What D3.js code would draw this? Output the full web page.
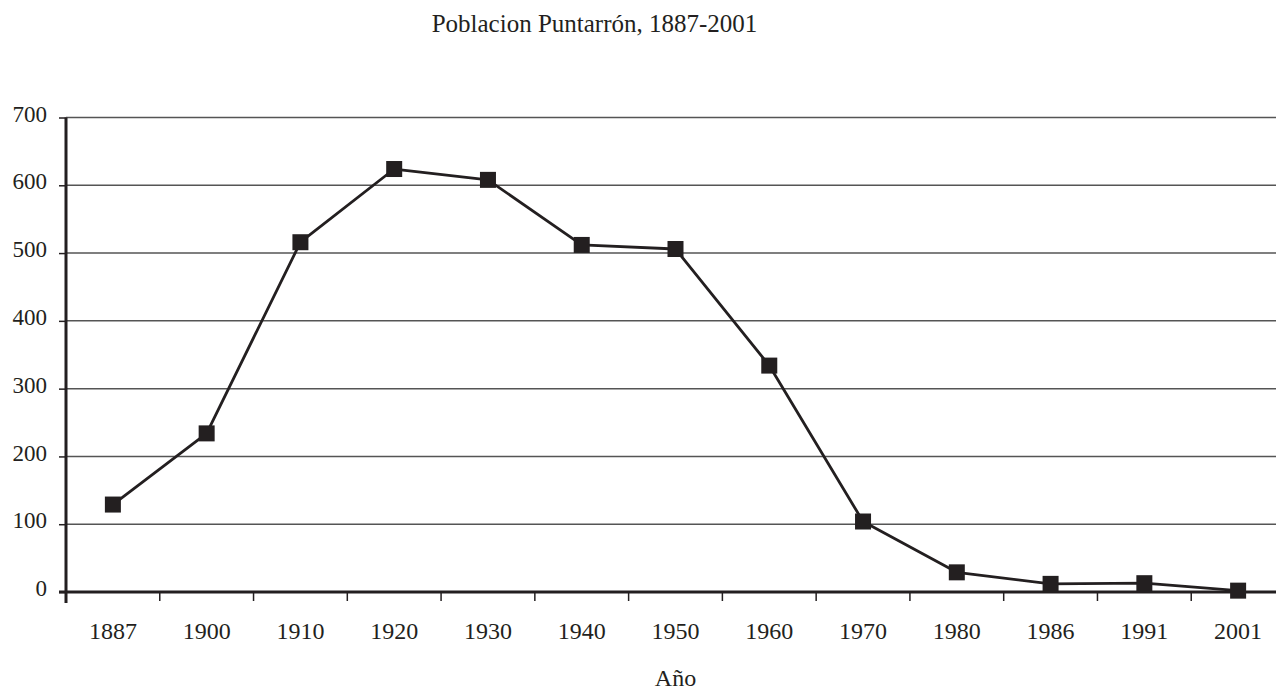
<!DOCTYPE html>
<html>
<head>
<meta charset="utf-8">
<script src="https://cdn.jsdelivr.net/npm/d3@7"></script>
<style>
  body { margin: 0; background: #fff; }
  text { font-family: "Liberation Serif", "Times New Roman", serif; fill: #231f20; }
</style>
</head>
<body>
<div id="graph"></div>
<script>
(function() {
    // chart data
    const years = ["1887", "1900", "1910", "1920", "1930", "1940", "1950", "1960", "1970", "1980", "1986", "1991", "2001"];
    const population = [129, 234, 516, 624, 608, 512, 506, 334, 104, 29, 12, 13, 2];
    const yTicks = [0, 100, 200, 300, 400, 500, 600, 700];

    const width = 1276, height = 691;
    const left = 66, right = 1285, top = 117.5, bottom = 592;

    const svg = d3.select("#graph")
        .append("svg")
        .attr("width", width)
        .attr("height", height);

    const x = d3.scaleBand()
        .domain(years)
        .range([left, right]);

    const y = d3.scaleLinear()
        .domain([0, 700])
        .range([bottom, top]);

    // title
    svg.append("text")
        .attr("x", 594.5)
        .attr("y", 32)
        .attr("text-anchor", "middle")
        .style("font-size", "25px")
        .text("Poblacion Puntarrón, 1887-2001");

    // horizontal gridlines
    svg.append("g")
        .selectAll("line")
        .data(yTicks.filter(d => d > 0))
        .enter()
        .append("line")
        .attr("x1", left)
        .attr("x2", width)
        .attr("y1", d => y(d))
        .attr("y2", d => y(d))
        .attr("stroke", "#555")
        .attr("stroke-width", 1.5);

    // y axis
    const yAxis = d3.axisLeft(y)
        .tickValues(yTicks)
        .tickSize(7)
        .tickPadding(12)
        .tickFormat(d3.format("d"));

    const gy = svg.append("g")
        .attr("transform", "translate(" + left + ",0)")
        .call(yAxis);
    gy.select(".domain").remove();
    gy.selectAll(".tick line").attr("stroke", "#231f20").attr("stroke-width", 1.5);
    gy.selectAll(".tick text")
        .attr("dy", "0.16em")
        .style("font-size", "23px")
        .style("font-family", "Liberation Serif, serif")
        .attr("fill", "#231f20");
    gy.append("line")
        .attr("x1", 0).attr("x2", 0)
        .attr("y1", top).attr("y2", bottom + 11)
        .attr("stroke", "#231f20")
        .attr("stroke-width", 3);

    // x axis
    const xAxis = d3.axisBottom(x)
        .tickSize(0)
        .tickPadding(30);

    const gx = svg.append("g")
        .attr("transform", "translate(0," + bottom + ")")
        .call(xAxis);
    gx.select(".domain").remove();
    gx.selectAll(".tick text")
        .style("font-size", "24px")
        .style("font-family", "Liberation Serif, serif")
        .attr("fill", "#231f20");

    // tick marks between categories
    gx.selectAll(".sep")
        .data(years.slice(1))
        .enter()
        .append("line")
        .attr("class", "sep")
        .attr("x1", d => x(d))
        .attr("x2", d => x(d))
        .attr("y1", 0)
        .attr("y2", 9)
        .attr("stroke", "#231f20")
        .attr("stroke-width", 1.5);

    gx.append("line")
        .attr("x1", left - 7)
        .attr("x2", width)
        .attr("y1", 0)
        .attr("y2", 0)
        .attr("stroke", "#231f20")
        .attr("stroke-width", 3);

    // axis title
    svg.append("text")
        .attr("x", (left + right) / 2)
        .attr("y", 686)
        .attr("text-anchor", "middle")
        .style("font-size", "24px")
        .text("Año");

    const data = years.map((yr, i) => ({year: yr, N: population[i]}));

    const line = d3.line()
        .x(d => x(d.year) + x.bandwidth() / 2)
        .y(d => y(d.N));

    svg.append("path")
        .datum(data)
        .attr("d", line)
        .attr("fill", "none")
        .attr("stroke", "#231f20")
        .attr("stroke-width", 2.8)
        .attr("stroke-linejoin", "round");

    const sq = 16;
    svg.selectAll(".marker")
        .data(data)
        .enter()
        .append("rect")
        .attr("class", "marker")
        .attr("x", d => x(d.year) + x.bandwidth() / 2 - sq / 2)
        .attr("y", d => y(d.N) - sq / 2)
        .attr("width", sq)
        .attr("height", sq)
        .attr("fill", "#231f20");
})();
</script>
</body>
</html>
